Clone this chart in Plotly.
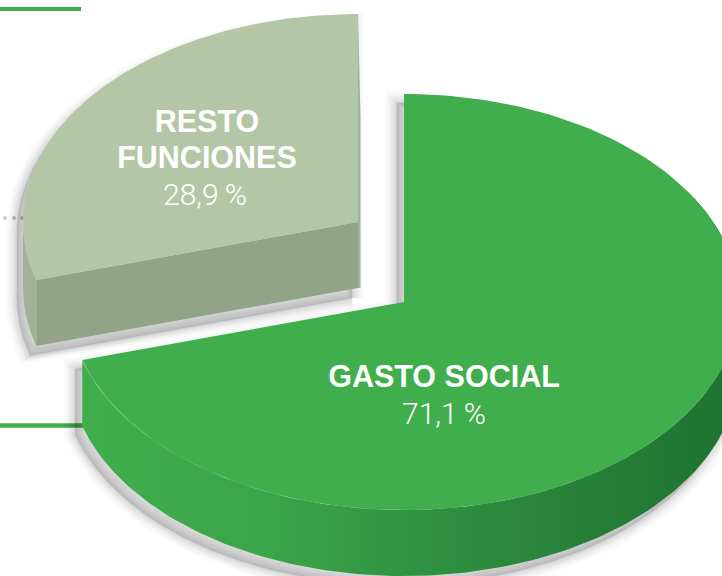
import numpy as np
import plotly.graph_objects as go

# Data
categories = ["GASTO SOCIAL", "RESTO FUNCIONES"]
shares = [71.1, 28.9]
share_labels = ["71,1\u2009%", "28,9\u2009%"]

# Style / layout
W, H = 722, 576
RX, RY, DEPTH = 335, 208, 66
DEG_PER_PCT = 3.57          # drawn sweep of the first slice per percentage point
GREEN_C = (404, 302)
GREY_C = (358, 222)
GREEN_TOP = "#40ae4d"
GREY_TOP = "#b3c7a6"
GREY_CUT = "#92a487"
GREY_WALL = "#9fb29a"
BLUR_WIDTHS = [24, 20, 17, 14, 12, 10, 8, 6, 4, 3, 2, 1]
split = shares[0] * DEG_PER_PCT


def arc(c, t0, t1, dy=0, n=160):
    t = np.radians(np.linspace(t0, t1, n))
    return c[0] + RX * np.sin(t), c[1] - RY * np.cos(t) + dy


def poly(*parts):
    xs = np.concatenate([np.atleast_1d(p[0]) for p in parts])
    ys = np.concatenate([np.atleast_1d(p[1]) for p in parts])
    return np.append(xs, xs[0]), np.append(ys, ys[0])


fig = go.Figure()


def area(xy, color, **kw):
    fig.add_trace(go.Scatter(x=xy[0], y=xy[1], mode="lines", fill="toself", fillcolor=color,
                             line=dict(width=0, color=color), hoverinfo="skip", showlegend=False, **kw))


def shadow(xy, dx, dy, alpha_fill=0.13, step_alpha=0.016):
    x, y = xy[0] + dx, xy[1] + dy
    for w in BLUR_WIDTHS:
        fig.add_trace(go.Scatter(x=x, y=y, mode="lines",
                                 line=dict(width=w, color=f"rgba(0,0,0,{step_alpha})"),
                                 hoverinfo="skip", showlegend=False))
    area((x, y), f"rgba(0,0,0,{alpha_fill})")


def edge(xy, color, width):
    fig.add_trace(go.Scatter(x=xy[0], y=xy[1], mode="lines", line=dict(width=width, color=color),
                             hoverinfo="skip", showlegend=False))


# Decorative rules and dots
edge(([0, 81], [9, 9]), GREEN_TOP, 4)
edge(([0, 90], [425.5, 425.5]), GREEN_TOP, 4.5)
fig.add_trace(go.Scatter(x=[5, 14, 22], y=[218, 218, 218], mode="markers",
                         marker=dict(size=4, color="#cbcbcb"), hoverinfo="skip", showlegend=False))

# Grey slice
gc = GREY_C
corner = arc(gc, split, split, n=1)
grey_sil = poly(([gc[0]], [gc[1] + DEPTH]),
                arc(gc, split, 270, DEPTH),
                arc(gc, 270, 360),
                ([gc[0]], [gc[1]]))
shadow(grey_sil, -6, 10)
area(poly(arc(gc, split, 270), arc(gc, 270, split, DEPTH)), GREY_WALL)
area(poly(([gc[0]], [gc[1] - RY]), ([gc[0] + 2.5], [gc[1] - RY / 2]),
          ([gc[0] + 2.5], [gc[1] + DEPTH]), ([gc[0]], [gc[1] + DEPTH])), GREY_WALL)
area(poly(([gc[0]], [gc[1]]), ([gc[0]], [gc[1] + DEPTH]),
          (corner[0], corner[1] + DEPTH), corner), GREY_CUT)
area(poly(([gc[0]], [gc[1]]), arc(gc, split, 360)), GREY_TOP)

# Green slice
c = GREEN_C
green_sil = poly(([c[0]], [c[1]]), arc(c, 0, 90), arc(c, 90, split, DEPTH),
                 arc(c, split, split, n=1))
shadow(green_sil, -7, 9)
wall = poly(arc(c, 60, split), arc(c, split, 60, DEPTH))
fig.add_trace(go.Scatter(
    x=wall[0], y=wall[1], mode="lines", fill="toself", line=dict(width=0),
    fillgradient=dict(type="horizontal", colorscale=[
        [0.0, "#40ae4d"], [0.3, "#3aa449"], [0.5, "#309341"],
        [0.75, "#27813a"], [1.0, "#1d7230"]]),
    hoverinfo="skip", showlegend=False))
area(poly(([c[0]], [c[1]]), arc(c, 0, split)), GREEN_TOP)
edge(arc(c, 230, split), "rgba(255,255,255,0.22)", 0.8)

# Labels
bold = dict(family="Liberation Sans", size=30.5, color="white", weight="bold")
light = dict(family="Roboto", size=30, color="white", weight=300)


def label(x, y, text, font):
    fig.add_trace(go.Scatter(x=[x], y=[y], mode="text", text=[text], textposition="middle center",
                             textfont=font, hoverinfo="skip", showlegend=False))


label(444, 379, categories[0], bold)
label(444, 416, share_labels[0], light)
first, second = categories[1].split(" ")
label(207, 124, first, bold)
label(207, 160, second, bold)
label(205, 197, share_labels[1], light)

fig.update_layout(
    width=W, height=H, margin=dict(l=0, r=0, t=0, b=0),
    paper_bgcolor="white", plot_bgcolor="white", showlegend=False,
    xaxis=dict(range=[0, W], visible=False, fixedrange=True),
    yaxis=dict(range=[H, 0], visible=False, fixedrange=True),
)
fig.write_html("out.html", config={"displayModeBar": False},
               post_script="document.body.style.margin='0';document.body.style.overflow='hidden';")
